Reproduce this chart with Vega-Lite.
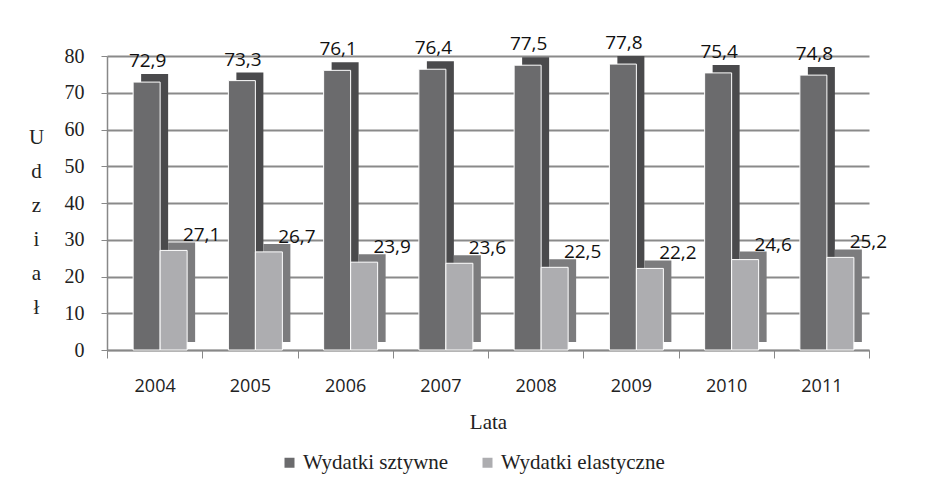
{
  "$schema": "https://vega.github.io/schema/vega-lite/v6.json",
  "width": 762,
  "height": 294,
  "autosize": {"type": "none"},
  "padding": {"left": 107, "top": 56, "right": 58, "bottom": 140},
  "background": "white",
  "config": {
    "view": {"stroke": null},
    "locale": {"number": {"decimal": ",", "thousands": " ", "grouping": [3], "currency": ["", " zł"]}}
  },
  "data": {
    "values": [
      {"rok": "2004", "seria": "Wydatki sztywne", "v": 72.9},
      {"rok": "2004", "seria": "Wydatki elastyczne", "v": 27.1},
      {"rok": "2005", "seria": "Wydatki sztywne", "v": 73.3},
      {"rok": "2005", "seria": "Wydatki elastyczne", "v": 26.7},
      {"rok": "2006", "seria": "Wydatki sztywne", "v": 76.1},
      {"rok": "2006", "seria": "Wydatki elastyczne", "v": 23.9},
      {"rok": "2007", "seria": "Wydatki sztywne", "v": 76.4},
      {"rok": "2007", "seria": "Wydatki elastyczne", "v": 23.6},
      {"rok": "2008", "seria": "Wydatki sztywne", "v": 77.5},
      {"rok": "2008", "seria": "Wydatki elastyczne", "v": 22.5},
      {"rok": "2009", "seria": "Wydatki sztywne", "v": 77.8},
      {"rok": "2009", "seria": "Wydatki elastyczne", "v": 22.2},
      {"rok": "2010", "seria": "Wydatki sztywne", "v": 75.4},
      {"rok": "2010", "seria": "Wydatki elastyczne", "v": 24.6},
      {"rok": "2011", "seria": "Wydatki sztywne", "v": 74.8},
      {"rok": "2011", "seria": "Wydatki elastyczne", "v": 25.2}
    ]
  },
  "encoding": {
    "x": {
      "field": "rok", "type": "nominal", "sort": null,
      "scale": {"paddingInner": 0, "paddingOuter": 0},
      "axis": {
        "title": "Lata", "titleFont": "Liberation Serif", "titleFontSize": 21, "titleFontWeight": "normal",
        "titleColor": "#222", "titlePadding": 16,
        "labelFont": "Open Sans", "labelFontSize": 18, "labelColor": "#222", "labelAngle": 0,
        "labelPadding": 19, "tickBand": "extent", "tickSize": 8, "tickColor": "#888",
        "domainColor": "#888", "domainWidth": 1.5, "grid": false
      }
    },
    "y": {
      "field": "v", "type": "quantitative",
      "scale": {"domain": [0, 80]},
      "axis": {
        "values": [0, 10, 20, 30, 40, 50, 60, 70, 80],
        "title": ["U", "d", "z", "i", "a", "ł"], "titleAngle": 0, "titleFont": "Liberation Serif",
        "titleFontSize": 21, "titleFontWeight": "normal", "titleColor": "#222", "titleLineHeight": 34,
        "titleX": -71, "titleY": 70, "titleAlign": "center", "titleBaseline": "top",
        "labelFont": "Liberation Serif", "labelFontSize": 20, "labelColor": "#222", "labelPadding": 17,
        "tickSize": 6, "tickColor": "#888", "domainColor": "#888", "domainWidth": 1.5,
        "grid": true, "gridColor": "#8a8a8a", "gridWidth": 1.8
      }
    }
  },
  "layer": [
    {
      "transform": [{"filter": "datum.seria == 'Wydatki sztywne'"}],
      "mark": {"type": "bar", "width": 27, "xOffset": 0, "yOffset": -8, "color": "#4a4a4c"}
    },
    {
      "transform": [{"filter": "datum.seria == 'Wydatki sztywne'"}],
      "mark": {"type": "bar", "width": 27, "xOffset": -8, "stroke": "white", "strokeWidth": 1},
      "encoding": {
        "color": {
          "field": "seria", "type": "nominal",
          "scale": {"domain": ["Wydatki sztywne", "Wydatki elastyczne"], "range": ["#6b6b6d", "#adadb0"]},
          "legend": {
            "title": null, "orient": "none", "direction": "horizontal", "legendX": 172, "legendY": 396,
            "symbolType": "square", "symbolSize": 100, "symbolStrokeWidth": 0,
            "labelFont": "Liberation Serif", "labelFontSize": 21, "labelColor": "#222", "labelLimit": 400,
            "columnPadding": 28, "labelOffset": 3
          }
        }
      }
    },
    {
      "transform": [{"filter": "datum.seria == 'Wydatki elastyczne'"}],
      "mark": {"type": "bar", "width": 27, "xOffset": 27, "yOffset": -8, "color": "#7c7c7e"}
    },
    {
      "transform": [{"filter": "datum.seria == 'Wydatki elastyczne'"}],
      "mark": {"type": "bar", "width": 27, "xOffset": 19, "stroke": "white", "strokeWidth": 1},
      "encoding": {
        "color": {"field": "seria", "type": "nominal"}
      }
    },
    {
      "transform": [{"filter": "datum.seria == 'Wydatki sztywne'"}],
      "mark": {"type": "text", "font": "Open Sans", "fontSize": 19, "color": "#111", "baseline": "bottom", "dx": -7, "dy": -11},
      "encoding": {"text": {"field": "v", "type": "quantitative", "format": ".1f"}}
    },
    {
      "transform": [{"filter": "datum.seria == 'Wydatki elastyczne'"}],
      "mark": {"type": "text", "font": "Open Sans", "fontSize": 19, "color": "#111", "baseline": "bottom", "dx": 47, "dy": -5},
      "encoding": {"text": {"field": "v", "type": "quantitative", "format": ".1f"}}
    }
  ]
}
